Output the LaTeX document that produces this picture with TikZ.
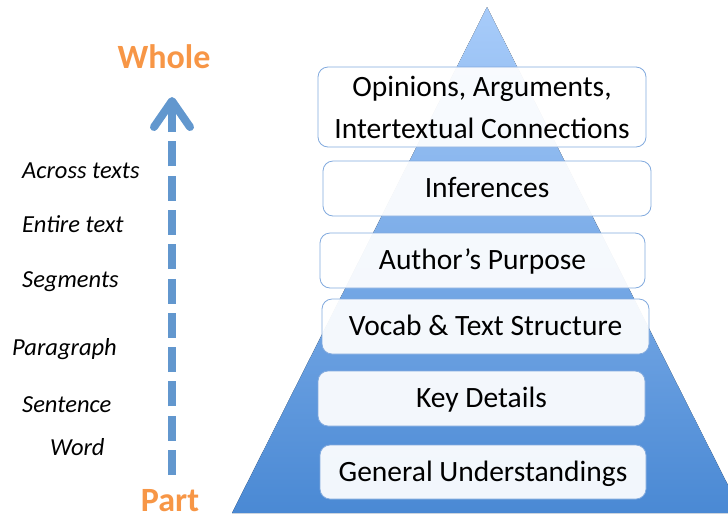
\documentclass[tikz,border=0pt]{standalone}
\usepackage{fontspec}
\setmainfont{Carlito}
\usetikzlibrary{calc}
\definecolor{arrowblue}{RGB}{98,151,206}
\definecolor{boxline}{RGB}{130,170,222}
\definecolor{orangeT}{RGB}{247,150,70}
\definecolor{triTop}{RGB}{168,204,250}
\definecolor{triBot}{RGB}{74,137,212}
\begin{document}
\begin{tikzpicture}[x=1pt,y=-1pt,
 level/.style={draw=boxline, line width=0.8pt, fill=white, fill opacity=0.93, text opacity=1,
   rounded corners=10pt, font=\fontsize{29.5}{42}\selectfont, inner sep=0pt, align=center},
 one/.style={text height=24pt, text depth=6pt},
 side/.style={font=\fontsize{24.5}{29}\selectfont\itshape, anchor=base west, inner sep=0pt},
 pole/.style={font=\fontsize{34}{40}\selectfont\bfseries, text=orangeT, anchor=base, inner sep=0pt},
 shaft/.style={draw=arrowblue, line width=8pt, dash pattern=on 25pt off 9.3pt},
 head/.style={draw=arrowblue, line width=8pt, line cap=round, line join=round}]
\useasboundingbox (0,0) rectangle (728,515);
\begin{scope}
\clip (0,0) rectangle (728,515);
\coordinate (apex) at (487,7);
\coordinate (baseR) at (742,513);
\coordinate (baseL) at (232,513);
\fill[top color=triTop, bottom color=triBot] (apex) -- (baseR) -- (baseL) -- cycle;
\end{scope}
% levels
\node[level, minimum width=328pt, minimum height=80pt] (opin) at (482,107) {Opinions, Arguments,\\Intertextual Connections};
\node[level, one, minimum width=328pt, minimum height=55pt] (infer) at (487,188.5) {Inferences};
\node[level, one, minimum width=325pt, minimum height=55pt] (author) at (482.5,260.5) {Author’s Purpose};
\node[level, one, minimum width=327pt, minimum height=55pt] (vocab) at (485.5,326.5) {Vocab \& Text Structure};
\node[level, one, minimum width=327pt, minimum height=55pt] (key) at (481.5,398.5) {Key Details};
\node[level, one, minimum width=326pt, minimum height=54pt] (gen) at (483,472) {General Understandings};
% side labels
\node[side] (across) at (22,178) {Across texts};
\node[side] (entire) at (22,232) {Entire text};
\node[side] (segm) at (22,287) {Segments};
\node[side] (para) at (12,355) {Paragraph};
\node[side] (sent) at (22,412) {Sentence};
\node[side] (word) at (50,455) {Word};
% poles
\node[pole] (whole) at (164,68) {Whole};
\node[pole] (part) at (170,511) {Part};
% arrow
\coordinate (abot) at (172,475);
\coordinate (atop) at (172,108);
\coordinate (atip) at (172,101);
\coordinate (wingL) at (154,127);
\coordinate (wingR) at (190,127);
\draw[shaft] (abot) -- (atop);
\draw[head] (wingL) -- (atip) -- (wingR);
\draw[draw=arrowblue, line width=8pt] (atip) -- (172,118);
\end{tikzpicture}
\end{document}
